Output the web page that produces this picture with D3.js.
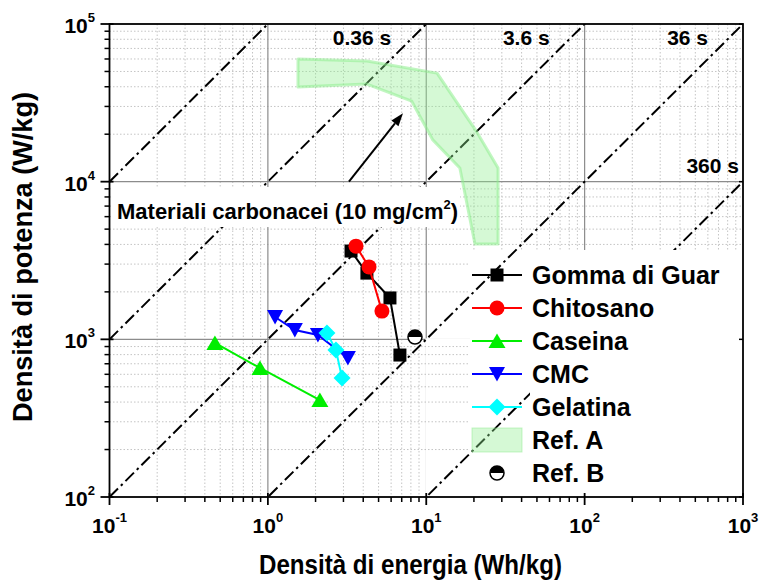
<!DOCTYPE html>
<html>
<head>
<meta charset="utf-8">
<script src="https://cdn.jsdelivr.net/npm/d3@7"></script>
<style>
  body { margin: 0; background: #fff; }
  svg { display: block; }
  text { font-family: "Liberation Sans", Arial, sans-serif; font-weight: bold; fill: #000; }
</style>
</head>
<body>
<svg id="chart" width="761" height="581"></svg>
<script>
// ---- Data (energy density in Wh/kg, power density in W/kg) ----
const gommaE = [3.35, 4.22, 5.90, 6.82];
const gommaP = [3630, 2630, 1830, 795];
const chitosanoE = [3.60, 4.35, 5.25];
const chitosanoP = [3900, 2880, 1510];
const caseinaE = [0.463, 0.891, 2.13];
const caseinaP = [949, 658, 412];
const cmcE = [1.11, 1.48, 2.07, 3.20];
const cmcP = [1385, 1146, 1065, 761];
const gelatinaE = [2.36, 2.69, 2.94];
const gelatinaP = [1096, 855, 568];

// Ref. A: literature region for carbon materials (outline of the band)
const refAE = [1.55, 4.22, 11.7, 20.9, 28.4, 28.4, 20.3, 16.3, 11.0, 8.1, 4.22, 1.55];
const refAP = [59900, 58200, 48800, 20600, 12200, 4020, 4020, 12200, 18400, 32400, 41600, 39800];
// Ref. B: single literature point
const refBE = [8.49];
const refBP = [1035];

// Constant discharge time lines, t = 3600 * E / P (seconds)
const timeConstants = [0.036, 0.36, 3.6, 36, 360];
const timeLabels = [null, "0.36 s", "3.6 s", "36 s", "360 s"];

// Arrow annotation (from, to) in data units
const arrowFrom = [3.25, 10000];
const arrowTo = [7.13, 27200];

// Axis ticks (powers of ten)
const xTickExps = [-1, 0, 1, 2, 3];
const yTickExps = [2, 3, 4, 5];

const seriesNames = ["Gomma di Guar", "Chitosano", "Caseina", "CMC", "Gelatina"];
const seriesColors = ["#000000", "#ff0000", "#00ee00", "#0000ff", "#00ffff"];
const seriesShapes = ["square", "circle", "triUp", "triDown", "diamond"];

// ---- Layout ----
const svg = d3.select("#chart");
const X0 = 109.5, X1 = 743, YT = 24, YB = 497;
const x = d3.scaleLog().domain([0.1, 1000]).range([X0, X1]);
const y = d3.scaleLog().domain([100, 100000]).range([YB, YT]);

const series = seriesNames.map((name, i) => {
  const E = [gommaE, chitosanoE, caseinaE, cmcE, gelatinaE][i];
  const P = [gommaP, chitosanoP, caseinaP, cmcP, gelatinaP][i];
  return { name, color: seriesColors[i], shape: seriesShapes[i], pts: E.map((e, j) => [e, P[j]]) };
});

const defs = svg.append("defs");
defs.append("clipPath").attr("id", "plotClip")
  .append("rect").attr("x", X0).attr("y", YT).attr("width", X1 - X0).attr("height", YB - YT);

// Major grid is hidden behind the legend block
const legL = 470, legT = 250, legTextL = 530;
const gapX = x(10) - 1, gapY = y(1000) - 1;
defs.append("clipPath").attr("id", "majorClip")
  .append("path").attr("d",
    `M${X0},${YT}H${X1}V${legT}H${legL}V${gapY}H${gapX}V${YB}H${X0}Z`);

// ---- Minor grid ----
const minorX = [], minorY = [];
for (let e = -1; e < 3; e++) for (let k = 2; k <= 9; k++) minorX.push(k * Math.pow(10, e));
for (let e = 2; e < 5; e++) for (let k = 2; k <= 9; k++) minorY.push(k * Math.pow(10, e));

const grid = svg.append("g").attr("clip-path", "url(#plotClip)");
grid.selectAll(".mx").data(minorX).join("line")
  .attr("x1", d => x(d)).attr("x2", d => x(d)).attr("y1", YT).attr("y2", YB)
  .attr("stroke", "#c4c4c4").attr("stroke-width", 1).attr("stroke-dasharray", "1.5,2");
grid.selectAll(".my").data(minorY).join("line")
  .attr("y1", d => y(d)).attr("y2", d => y(d)).attr("x1", X0).attr("x2", X1)
  .attr("stroke", "#c4c4c4").attr("stroke-width", 1).attr("stroke-dasharray", "1.5,2");

// ---- Major grid ----
const major = svg.append("g").attr("clip-path", "url(#majorClip)");
major.selectAll(".Mx").data(xTickExps.slice(1, -1)).join("line")
  .attr("x1", d => x(Math.pow(10, d))).attr("x2", d => x(Math.pow(10, d)))
  .attr("y1", YT).attr("y2", YB).attr("stroke", "#8c8c8c").attr("stroke-width", 1.2);
major.selectAll(".My").data(yTickExps.slice(1, -1)).join("line")
  .attr("y1", d => y(Math.pow(10, d))).attr("y2", d => y(Math.pow(10, d)))
  .attr("x1", X0).attr("x2", X1).attr("stroke", "#8c8c8c").attr("stroke-width", 1.2);

// Legend background
svg.append("rect").attr("x", legL).attr("y", legT).attr("width", X1 - legL - 1).attr("height", YB - legT - 1)
  .attr("fill", "#fff");

// ---- Constant-time diagonals ----
const diag = svg.append("g").attr("clip-path", "url(#plotClip)");
timeConstants.forEach(t => {
  const pts = [0.1, 1000].map(e => [e, 3600 * e / t]);
  diag.append("line")
    .attr("x1", x(pts[0][0])).attr("y1", y(pts[0][1]))
    .attr("x2", x(pts[1][0])).attr("y2", y(pts[1][1]))
    .attr("stroke", "#000").attr("stroke-width", 2)
    .attr("stroke-dasharray", "12,4,2.5,4");
});

// Legend text column and annotation text boxes sit above the diagonals
svg.append("rect").attr("x", legTextL).attr("y", legT).attr("width", X1 - legTextL - 1).attr("height", YB - legT - 1)
  .attr("fill", "#fff");
svg.append("rect").attr("x", 113).attr("y", 187).attr("width", 347).attr("height", 40).attr("fill", "#fff");

// ---- Ref. A band ----
svg.append("path")
  .attr("d", d3.line()(refAE.map((e, i) => [x(e), y(refAP[i])])) + "Z")
  .attr("fill", "rgb(144,238,144)").attr("fill-opacity", 0.38)
  .attr("stroke", "rgb(144,238,144)").attr("stroke-opacity", 0.55).attr("stroke-width", 3)
  .attr("stroke-linejoin", "round");

// ---- Arrow ----
{
  const ax1 = x(arrowFrom[0]), ay1 = y(arrowFrom[1]);
  const ax2 = x(arrowTo[0]), ay2 = y(arrowTo[1]);
  const ang = Math.atan2(ay2 - ay1, ax2 - ax1);
  const hl = 13, hw = 4.5;
  const bx = ax2 - hl * Math.cos(ang), by = ay2 - hl * Math.sin(ang);
  svg.append("line").attr("x1", ax1).attr("y1", ay1).attr("x2", bx).attr("y2", by)
    .attr("stroke", "#000").attr("stroke-width", 2);
  svg.append("path").attr("d",
    `M${ax2},${ay2}L${bx + hw * Math.sin(ang)},${by - hw * Math.cos(ang)}L${bx - hw * Math.sin(ang)},${by + hw * Math.cos(ang)}Z`)
    .attr("fill", "#000");
}

// ---- Markers ----
function markerPath(shape) {
  switch (shape) {
    case "square": return "M-6.5,-6.5h13v13h-13Z";
    case "circle": return "M7.5,0A7.5,7.5 0 1,1 -7.5,0A7.5,7.5 0 1,1 7.5,0Z";
    case "triUp": return "M0,-7.5L8.5,7L-8.5,7Z";
    case "triDown": return "M0,7.5L8,-7L-8,-7Z";
    case "diamond": return "M0,-8.5L8.5,0L0,8.5L-8.5,0Z";
  }
}

const plot = svg.append("g");
series.forEach(s => {
  plot.append("path")
    .attr("d", d3.line().x(d => x(d[0])).y(d => y(d[1]))(s.pts))
    .attr("fill", "none").attr("stroke", s.color).attr("stroke-width", 2);
  plot.selectAll(null).data(s.pts).join("path")
    .attr("d", markerPath(s.shape))
    .attr("transform", d => `translate(${x(d[0])},${y(d[1])})`)
    .attr("fill", s.color);
});

function halfCircle(g, cx, cy, r) {
  g.append("circle").attr("cx", cx).attr("cy", cy).attr("r", r)
    .attr("fill", "#fff").attr("stroke", "#000").attr("stroke-width", 1.5);
  g.append("path").attr("d", `M${cx - r},${cy}A${r},${r} 0 0,1 ${cx + r},${cy}Z`).attr("fill", "#000");
}
refBE.forEach((e, i) => halfCircle(plot, x(e), y(refBP[i]), 7));

// ---- Legend ----
const legRow0 = 275, legStep = 33, symL = 472, symR = 522, symC = 497, txtX = 532;
const leg = svg.append("g");
series.forEach((s, i) => {
  const cy = legRow0 + i * legStep;
  leg.append("line").attr("x1", symL).attr("x2", symR).attr("y1", cy).attr("y2", cy)
    .attr("stroke", s.color).attr("stroke-width", 2);
  leg.append("path").attr("d", markerPath(s.shape)).attr("transform", `translate(${symC},${cy})`)
    .attr("fill", s.color);
  leg.append("text").attr("x", txtX).attr("y", cy + 8.5).attr("font-size", 25).text(s.name);
});
{
  const cyA = legRow0 + 5 * legStep;
  leg.append("rect").attr("x", symL).attr("y", cyA - 12).attr("width", symR - symL).attr("height", 24)
    .attr("fill", "rgb(144,238,144)").attr("fill-opacity", 0.38)
    .attr("stroke", "rgb(144,238,144)").attr("stroke-opacity", 0.5).attr("stroke-width", 1);
  leg.append("text").attr("x", txtX).attr("y", cyA + 8.5).attr("font-size", 25).text("Ref. A");
  const cyB = legRow0 + 6 * legStep;
  halfCircle(leg, symC, cyB, 7);
  leg.append("text").attr("x", txtX).attr("y", cyB + 8.5).attr("font-size", 25).text("Ref. B");
}

// ---- Time labels ----
timeConstants.forEach((t, i) => {
  if (!timeLabels[i]) return;
  const eTop = 100000 * t / 3600;
  let lx, ly;
  if (eTop <= 1000) { lx = x(eTop) - 35; ly = YT + 21; }
  else { lx = X1 - 4; ly = y(3600 * 1000 / t) - 9; }
  svg.append("text").attr("x", lx).attr("y", ly).attr("text-anchor", "end")
    .attr("font-size", 21).text(timeLabels[i]);
});

// Annotation
{
  const t = svg.append("text").attr("x", 117).attr("y", 219).attr("font-size", 22);
  t.append("tspan").text("Materiali carbonacei (10 mg/cm");
  t.append("tspan").attr("font-size", 13).attr("dy", -10).text("2");
  t.append("tspan").attr("dy", 10).text(")");
}

// ---- Axes ----
const ax = svg.append("g");
ax.append("rect").attr("x", X0).attr("y", YT).attr("width", X1 - X0).attr("height", YB - YT)
  .attr("fill", "none").attr("stroke", "#000").attr("stroke-width", 1.8);

xTickExps.forEach(e => {
  const px = x(Math.pow(10, e));
  ax.append("line").attr("x1", px).attr("x2", px).attr("y1", YB - 4).attr("y2", YB + 8)
    .attr("stroke", "#000").attr("stroke-width", 1.8);
});
minorX.forEach(v => {
  const px = x(v);
  ax.append("line").attr("x1", px).attr("x2", px).attr("y1", YB).attr("y2", YB + 5)
    .attr("stroke", "#000").attr("stroke-width", 1.5);
});
yTickExps.forEach(e => {
  const py = y(Math.pow(10, e));
  ax.append("line").attr("x1", X0 - 9).attr("x2", X0 + 4).attr("y1", py).attr("y2", py)
    .attr("stroke", "#000").attr("stroke-width", 1.8);
  ax.append("line").attr("x1", X1 - 4).attr("x2", X1).attr("y1", py).attr("y2", py)
    .attr("stroke", "#000").attr("stroke-width", 1.5);
});
minorY.forEach(v => {
  const py = y(v);
  ax.append("line").attr("x1", X0 - 5).attr("x2", X0).attr("y1", py).attr("y2", py)
    .attr("stroke", "#000").attr("stroke-width", 1.5);
});

// Tick labels as powers of ten
xTickExps.forEach(e => {
  const t = ax.append("text").attr("x", x(Math.pow(10, e))).attr("y", 533)
    .attr("text-anchor", "middle").attr("font-size", 21);
  t.append("tspan").text("10");
  t.append("tspan").attr("font-size", 13).attr("dy", -11).text(String(e).replace("-", "-"));
});
yTickExps.forEach(e => {
  const t = ax.append("text").attr("x", 95).attr("y", y(Math.pow(10, e)) + 9)
    .attr("text-anchor", "end").attr("font-size", 21);
  t.append("tspan").text("10");
  t.append("tspan").attr("font-size", 13).attr("dy", -11).text(String(e));
});

// Axis titles
ax.append("text").attr("x", 259).attr("y", 574).attr("font-size", 27)
  .attr("textLength", 303).attr("lengthAdjust", "spacingAndGlyphs")
  .text("Densità di energia (Wh/kg)");
ax.append("text").attr("transform", "translate(32,422) rotate(-90)")
  .attr("font-size", 27).attr("textLength", 330).attr("lengthAdjust", "spacingAndGlyphs")
  .text("Densità di potenza (W/kg)");
</script>
</body>
</html>
